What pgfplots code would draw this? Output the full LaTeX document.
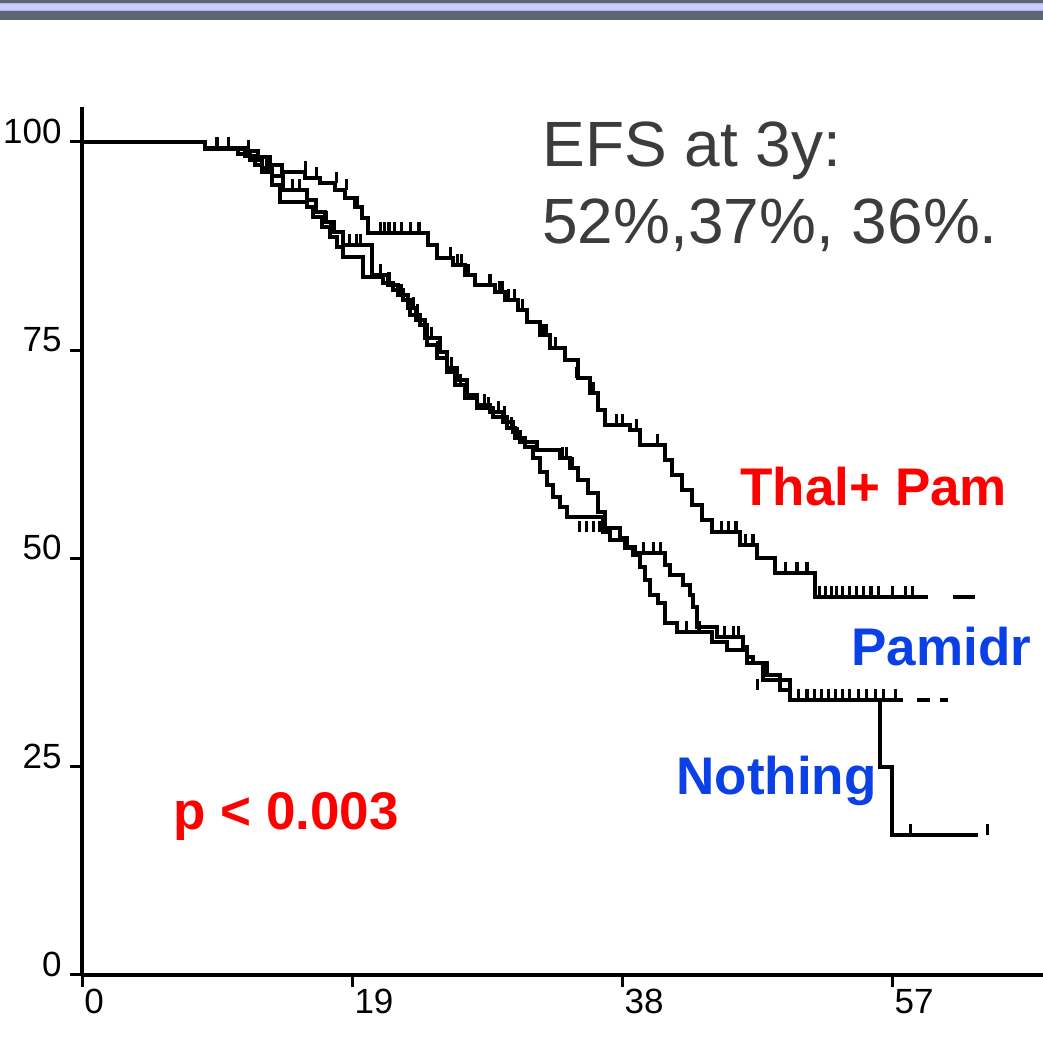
\documentclass[border=0pt]{standalone}
\usepackage{pgfplots}
\pgfplotsset{compat=1.18}
\usepackage{fontspec}
\setmainfont{Liberation Sans}

\definecolor{hdrdark}{RGB}{95,102,115}
\definecolor{hdrlav}{RGB}{200,204,255}
\definecolor{txtgrey}{RGB}{60,60,60}
\definecolor{lblblue}{RGB}{10,64,230}

\pgfplotsset{
  km/.style={black, line width=2pt, const plot, mark=none},
  cens/.style={black, only marks, mark=|, mark size=2.8pt,
    mark options={line width=1.6pt, yshift=2.8pt}},
}

\begin{document}
\begin{tikzpicture}[x=1pt,y=1pt]
\useasboundingbox (0,0) rectangle (521.5,530);
% slide header band
\fill[hdrdark] (0,520) rectangle (521.5,530);
\fill[hdrlav!80!hdrdark] (0,524.5) rectangle (521.5,528.5);
\fill[hdrlav] (0,525) rectangle (521.5,528);

\begin{axis}[%
at={(41pt,42.5pt)}, anchor=south west,
scale only axis, width=480.5pt, height=434pt,
xmin=0, xmax=67.6, ymin=0, ymax=104.2,
axis x line=bottom, axis y line=left,
axis line style={-, line width=2pt, black},
xtick={0,19,38,57}, ytick={0,25,50,75,100},
tick align=outside, major tick length=6pt,
tick style={line width=1.5pt, black},
/pgf/number format/assume math mode=true,
tick label style={font=\fontsize{17.5}{20}\selectfont, inner sep=0pt},
xticklabel style={anchor=north west, xshift=1pt, yshift=-1pt},
yticklabel style={anchor=south east, xshift=-4pt, yshift=-1pt},
clip=false]

% Thal + Pam
\addplot[km] coordinates {
 (0,100) (8.66,99.28) (11.47,98.92) (12.39,98.20) (13.23,97.24) (14.07,96.40)
 (15.69,95.68) (16.75,95.08) (17.80,94.24) (18.51,93.28) (19.21,92.20) (19.70,90.88)
 (20.13,89.08) (24.35,87.64) (24.98,86.08) (26.11,85.24) (26.95,84.04) (27.66,82.83)
 (29.06,82.00) (29.77,81.03) (30.68,79.83) (31.31,78.39) (32.23,76.83) (32.93,75.27)
 (33.99,73.83) (34.90,71.67) (35.75,69.87) (36.31,67.83) (36.80,66.03) (38.56,65.43)
 (39.27,63.63) (41.03,61.83) (41.52,60.03) (42.22,58.22) (42.93,56.42) (43.63,54.62)
 (44.33,53.18) (46.30,51.62) (47.50,50.06) (48.77,48.26) (51.58,45.38) (59.53,45.38)
};
\addplot[km] coordinates {(61.29,45.38) (62.84,45.38)};

% Pamidr
\addplot[km] coordinates {
 (0,100) (8.66,99.28) (10.98,98.56) (11.82,97.84) (12.67,96.88) (13.37,95.92)
 (14.14,94.24) (15.83,93.04) (16.47,91.60) (17.10,90.40) (17.73,89.20) (18.37,87.64)
 (20.41,84.04) (21.53,82.83) (22.24,81.63) (22.94,80.07) (23.50,78.63) (24.14,76.47)
 (25.19,74.79) (25.69,72.87) (26.39,71.43) (27.09,69.63) (27.80,68.43) (28.71,67.59)
 (29.63,66.39) (30.33,65.19) (30.82,63.99) (32.02,63.03) (33.64,62.07) (34.34,60.87)
 (34.90,59.42) (35.61,57.86) (36.31,55.58) (36.80,53.66) (37.86,52.46) (38.35,51.38)
 (38.91,50.66) (41.03,49.22) (41.38,48.02) (42.29,46.82) (42.78,45.62) (43.00,44.18)
 (43.28,41.78) (44.68,40.58) (46.51,39.38) (46.80,37.46) (47.92,35.41) (49.82,33.01)
 (57.77,33.01)
};
\addplot[km] coordinates {(58.76,33.01) (59.67,33.01)};
\addplot[km] coordinates {(60.38,33.01) (60.94,33.01)};

% Nothing
\addplot[km] coordinates {
 (0,100) (8.66,99.16) (11.47,98.32) (12.17,97.24) (12.67,96.40) (13.37,94.84)
 (13.93,92.80) (15.83,92.20) (16.26,91.00) (16.89,89.80) (17.45,88.60) (17.94,87.40)
 (18.37,86.20) (19.77,83.79) (21.18,83.07) (21.88,82.23) (22.59,81.03) (23.08,79.23)
 (23.79,78.03) (24.28,75.63) (24.98,74.07) (25.69,72.39) (26.25,70.83) (26.95,69.27)
 (27.80,68.07) (28.92,66.99) (29.91,65.67) (30.47,64.47) (31.17,63.39) (31.74,62.07)
 (32.23,60.39) (32.72,58.82) (33.14,57.38) (33.64,56.18) (34.13,54.98) (36.66,53.18)
 (37.16,52.22) (38.21,51.26) (38.77,50.42) (39.27,48.98) (39.62,47.42) (39.97,45.62)
 (40.53,44.66) (41.03,42.26) (41.87,41.18) (44.33,39.98) (45.39,39.02) (46.80,38.18)
 (47.22,37.46) (48.20,36.02) (49.12,34.21) (49.82,33.01) (56.16,24.97) (57.00,16.81)
 (63.05,16.81)
};

% censored observations, Thal + Pam
\addplot[cens] coordinates {
 (11.7,98.92) (15.7,96.40) (16.5,95.68) (17.9,95.08) (18.6,94.24) (19.4,92.20)
 (21.0,89.08) (21.3,89.08) (21.6,89.08) (22.0,89.08) (22.5,89.08) (23.1,89.08)
 (23.7,89.08) (25.9,86.08) (26.4,85.24) (26.7,85.24) (27.2,84.04) (28.7,82.83)
 (29.4,82.00) (29.6,82.00) (30.0,81.03) (30.4,81.03) (31.0,79.83) (32.5,76.83)
 (32.7,76.83) (33.3,75.27) (34.8,71.67) (36.0,69.87) (37.6,66.03) (38.0,66.03)
 (39.0,65.43) (40.5,63.63) (45.0,53.18) (45.5,53.18) (46.0,53.18) (46.7,51.62)
 (47.2,51.62) (49.5,48.26) (50.3,48.26) (51.0,48.26) (51.9,45.38) (52.3,45.38)
 (52.7,45.38) (53.1,45.38) (53.5,45.38) (54.0,45.38) (54.5,45.38) (55.0,45.38)
 (55.5,45.38) (56.0,45.38) (57.0,45.38) (57.9,45.38) (58.4,45.38)
};
% censored observations, Pamidr and Nothing
\addplot[cens] coordinates {
 (9.5,99.2) (10.3,99.2) (13.0,96.9) (14.8,94.2) (15.3,94.2) (17.2,90.4) (17.5,89.2)
 (18.8,87.6) (19.3,87.6) (19.6,87.6) (21.0,84.0) (21.6,83.07) (22.5,81.6)
 (23.3,80.1) (23.6,79.23) (24.6,76.5) (25.0,74.8) (26.0,72.9) (26.6,70.83)
 (28.3,68.4) (28.6,68.07) (29.3,67.6) (29.7,66.99) (30.2,65.67) (30.6,64.47)
 (33.8,62.07) (34.1,62.07) (34.5,60.87) (35.0,53.18) (35.5,53.18) (36.0,53.18)
 (36.4,53.18) (39.5,50.66) (40.2,50.66) (40.7,50.66) (42.5,41.18) (43.4,41.18)
 (45.2,40.58) (45.8,40.58) (46.2,40.58) (47.5,34.2)
 (50.4,33.01) (51.0,33.01) (51.5,33.01) (52.0,33.01) (52.5,33.01) (53.0,33.01)
 (53.5,33.01) (54.0,33.01) (54.6,33.01) (55.2,33.01) (55.8,33.01) (56.4,33.01)
 (57.2,33.01) (58.3,16.81) (63.7,16.81)
};
\end{axis}

% annotations
\node[anchor=base west, inner sep=0, text=txtgrey, font=\fontsize{32}{38}\selectfont] at (271,446.5) {EFS at 3y:};
\node[anchor=base west, inner sep=0, text=txtgrey, font=\fontsize{32}{38}\selectfont] at (271,408) {52\%,37\%, 36\%.};
\node[anchor=base west, inner sep=0, text=red, font=\bfseries\fontsize{26.5}{30}\selectfont] at (370,277) {Thal+ Pam};
\node[anchor=base west, inner sep=0, text=lblblue, font=\bfseries\fontsize{26.5}{30}\selectfont] at (425.5,197) {Pamidr};
\node[anchor=base west, inner sep=0, text=lblblue, font=\bfseries\fontsize{26.5}{30}\selectfont] at (338,132.5) {Nothing};
\node[anchor=base west, inner sep=0, text=red, font=\bfseries\fontsize{26.5}{30}\selectfont] at (86.5,115) {p < 0.003};
\end{tikzpicture}
\end{document}
